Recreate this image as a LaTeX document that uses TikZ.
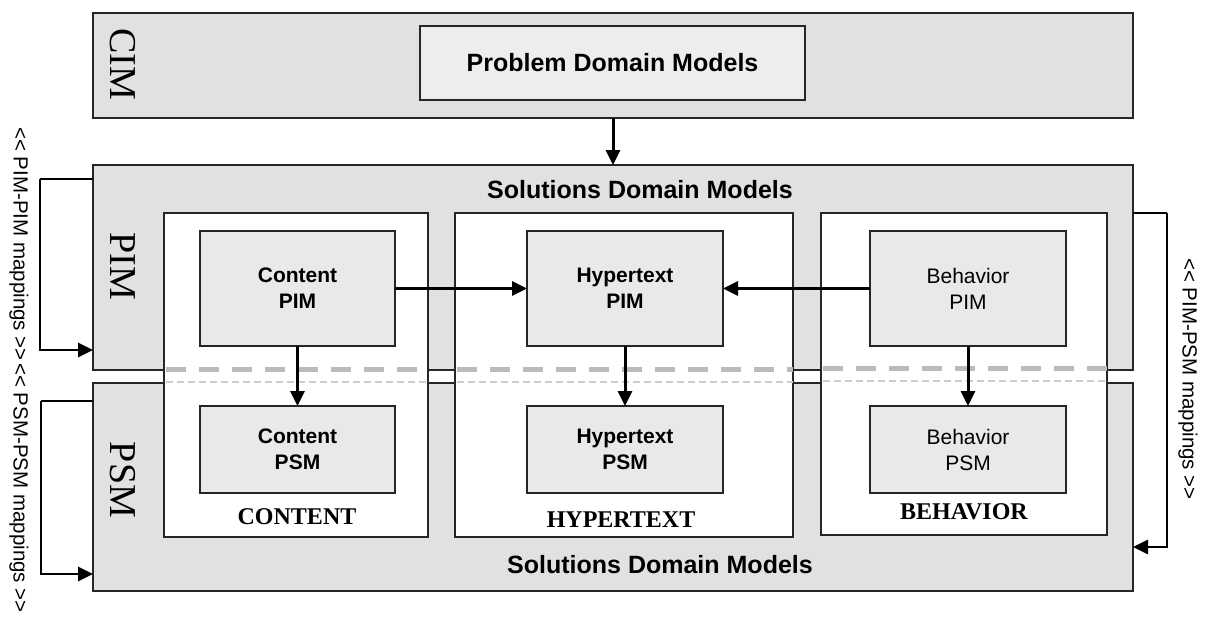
\documentclass[tikz,border=0pt]{standalone}
\usepackage{fontspec}
\setmainfont{Liberation Serif}
\setsansfont{Liberation Sans}
\usetikzlibrary{arrows.meta,calc}
\definecolor{bandgray}{HTML}{E1E1E1}
\definecolor{boxgray}{HTML}{E9E9E9}
\definecolor{dashgray}{HTML}{BBBBBB}
\definecolor{dotgray}{HTML}{CCCCCC}
\tikzset{
  band/.style={draw=black!85, line width=1.5pt, fill=bandgray, inner sep=0pt, outer sep=0pt},
  column/.style={draw=black!85, line width=1.5pt, fill=white, inner sep=0pt, outer sep=0pt},
  inbox/.style={draw=black!85, line width=1.5pt, fill=boxgray, inner sep=0pt, outer sep=0pt, align=center, font=\sffamily\fontsize{21}{26}\selectfont},
  arr/.style={line width=3pt, -{Triangle[length=15pt,width=14pt]}},
  maparr/.style={line width=2.8pt, -{Triangle[length=15pt,width=14pt]}},
  levellabel/.style={rotate=-90, font=\rmfamily\fontsize{38}{40}\selectfont, inner sep=0pt},
  maplabel/.style={rotate=-90, font=\sffamily\fontsize{20.5}{24}\selectfont, inner sep=0pt},
  colname/.style={font=\rmfamily\bfseries\fontsize{24}{28}\selectfont, inner sep=0pt},
  sdm/.style={font=\sffamily\bfseries\fontsize{25}{30}\selectfont, inner sep=0pt},
  thickdash/.style={draw=dashgray, line width=5pt, dash pattern=on 20pt off 13pt},
  thindash/.style={draw=dotgray, line width=2pt, dash pattern=on 7pt off 4pt}
}
\begin{document}
\begin{tikzpicture}[x=1pt,y=-1pt]
\useasboundingbox (0,0) rectangle (1207,630);
\fill[white] (0,0) rectangle (1207,630);
% bands
\node[band, minimum width=1040pt, minimum height=105pt] (cim) at (613,65.5) {};
\node[band, minimum width=1040pt, minimum height=205pt] (pim) at (613,267.5) {};
\node[band, minimum width=1040pt, minimum height=208pt] (psm) at (613,487) {};
% problem domain
\node[inbox, fill=boxgray!80!white, minimum width=385pt, minimum height=74pt, font=\sffamily\bfseries\fontsize{25}{30}\selectfont] (prob) at (612.5,63) {Problem Domain Models};
% columns
\node[column, minimum width=264pt, minimum height=324pt] (ccol) at (296,375) {};
\node[column, minimum width=338pt, minimum height=324pt] (hcol) at (624,375) {};
\node[column, minimum width=286pt, minimum height=322pt] (bcol) at (964,374) {};
% dashed separators
\foreach \c in {ccol,hcol,bcol}{
  \draw[thickdash] ($(\c.west)+(2,-6)$) coordinate (d1) -- (d1 -| \c.east);
  \draw[thindash] ($(\c.west)+(2,7)$) coordinate (d2) -- (d2 -| \c.east);
}
% inner boxes
\node[inbox, minimum width=195pt, minimum height=115pt, font=\sffamily\bfseries\fontsize{21}{26}\selectfont] (cpim) at (297.5,288.5) {Content\\PIM};
\node[inbox, minimum width=196pt, minimum height=115pt, font=\sffamily\bfseries\fontsize{21}{26}\selectfont] (hpim) at (625,288.5) {Hypertext\\PIM};
\node[inbox, minimum width=196pt, minimum height=115pt] (bpim) at (968,288.5) {Behavior\\PIM};
\node[inbox, minimum width=195pt, minimum height=87pt, font=\sffamily\bfseries\fontsize{21}{26}\selectfont] (cpsm) at (297.5,449.5) {Content\\PSM};
\node[inbox, minimum width=196pt, minimum height=87pt, font=\sffamily\bfseries\fontsize{21}{26}\selectfont] (hpsm) at (625,449.5) {Hypertext\\PSM};
\node[inbox, minimum width=196pt, minimum height=87pt] (bpsm) at (968,449.5) {Behavior\\PSM};
% arrows
\draw[arr] (cim.south) -- (pim.north);
\draw[arr] (cpim.south) -- (cpsm.north);
\draw[arr] (hpim.south) -- (hpsm.north);
\draw[arr] (bpim.south) -- (bpsm.north);
\draw[arr] (cpim.east) -- (hpim.west);
\draw[arr] (bpim.west) -- (hpim.east);
% labels
\node[levellabel] (lcim) at (123,64) {CIM};
\node[levellabel] (lpim) at (123,266) {PIM};
\node[levellabel] (lpsm) at (123,480) {PSM};
\node[sdm] (sdmtop) at (640,190) {Solutions Domain Models};
\node[sdm] (sdmbot) at (660,565) {Solutions Domain Models};
\node[colname] (ctext) at (297,517) {CONTENT};
\node[colname] (htext) at (621,520) {HYPERTEXT};
\node[colname] (btext) at (964,512) {BEHAVIOR};
% mappings
\coordinate (l1a) at (40,179);
\coordinate (l1b) at (40,350);
\coordinate (l2a) at (41,401);
\coordinate (l2b) at (41,574);
\coordinate (r1a) at (1167,213);
\coordinate (r1b) at (1167,547);
\draw[line width=1.5pt] (pim.west |- l1a) -- (l1a);
\draw[maparr] (l1a) -- (l1b) -- (pim.west |- l1b);
\draw[line width=1.5pt] (psm.west |- l2a) -- (l2a);
\draw[maparr] (l2a) -- (l2b) -- (psm.west |- l2b);
\draw[line width=1.5pt] (pim.east |- r1a) -- (r1a);
\draw[maparr] (r1a) -- (r1b) -- (psm.east |- r1b);
\node[maplabel] (mpp) at (19,244) {<{}< PIM-PIM mappings >{}>};
\node[maplabel] (mss) at (19,488) {<{}< PSM-PSM mappings >{}>};
\node[maplabel] (mps) at (1188,379) {<{}< PIM-PSM mappings >{}>};
\end{tikzpicture}
\end{document}
